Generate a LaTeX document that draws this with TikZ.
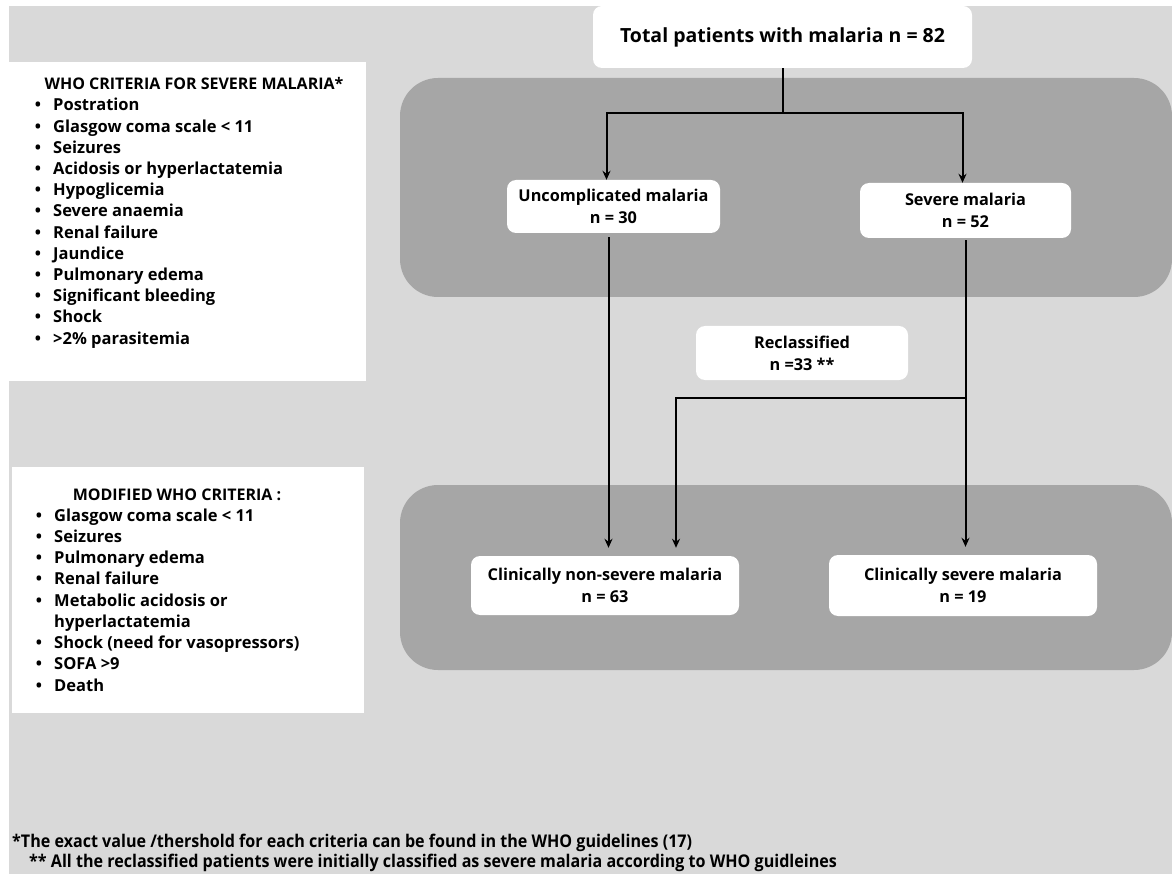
\documentclass[tikz,border=0pt]{standalone}
\usepackage{fontspec}
\setmainfont{Open Sans}
\newfontfamily\condfont{Open Sans}[FakeStretch=0.92]
\usetikzlibrary{positioning, arrows.meta, calc}

\definecolor{bggray}{HTML}{D9D9D9}
\definecolor{bandgray}{HTML}{A6A6A6}

\begin{document}
\begin{tikzpicture}[
    x=1pt, y=-1pt,
    band/.style={fill=bandgray, rounded corners=38pt},
    critbox/.style={rectangle, fill=white, inner sep=0pt},
    flowbox/.style={rectangle, fill=white, rounded corners=9pt, align=center, inner sep=0pt, font=\bfseries\fontsize{16.3}{22}\selectfont},
    arrow/.style={-{Stealth[length=9pt, width=8pt]}, line width=2pt, black},
    link/.style={line width=2pt, black},
    crititem/.style={anchor=base west, inner sep=0pt, font=\bfseries\fontsize{16.5}{20}\selectfont},
    bulletdot/.style={anchor=base, inner sep=0pt, font=\bfseries\fontsize{16.5}{20}\selectfont},
    crittitle/.style={anchor=base, inner sep=0pt, font=\bfseries\fontsize{16}{20}\selectfont},
    note/.style={anchor=base west, inner sep=0pt, font=\condfont\bfseries\fontsize{17.5}{21}\selectfont}
]
\useasboundingbox (0,0) rectangle (1172,874);

% Background
\fill[white] (0,0) rectangle (1172,874);
\fill[bggray] (9,6) rectangle (1172,874);

% Bands behind the flow
\fill[band] (400,78) rectangle (1172,297);
\fill[band] (400,485) rectangle (1172,670);

% WHO criteria
\node[critbox, minimum width=357pt, minimum height=319pt] (whobox) at (187.5,221.5) {};
\node[crittitle] (whotitle) at (194,90) {WHO CRITERIA FOR SEVERE MALARIA*};
\foreach \txt [count=\i] in {Postration, Glasgow coma scale < 11, Seizures, Acidosis or hyperlactatemia, Hypoglicemia, Severe anaemia, Renal failure, Jaundice, Pulmonary edema, Significant bleeding, Shock, {>2\% parasitemia}} {
    \pgfmathsetmacro{\ypos}{111 + (\i-1)*21.2}
    \node[bulletdot] (whodot\i) at (38,\ypos) {\textbullet};
    \node[crititem] (whoitem\i) at (53,\ypos) {\txt};
}

% Modified WHO criteria
\node[critbox, minimum width=352pt, minimum height=246pt] (modbox) at (188,590) {};
\node[crittitle] (modtitle) at (177,500) {MODIFIED WHO CRITERIA :};
\foreach \txt/\dot [count=\i] in {Glasgow coma scale < 11/1, Seizures/1, Pulmonary edema/1, Renal failure/1, Metabolic acidosis or/1, hyperlactatemia/0, Shock (need for vasopressors)/1, SOFA >9/1, Death/1} {
    \pgfmathsetmacro{\ypos}{521 + (\i-1)*21.25}
    \ifnum\dot=1
        \node[bulletdot] (moddot\i) at (39,\ypos) {\textbullet};
    \fi
    \node[crititem] (moditem\i) at (54,\ypos) {\txt};
}

% Flow boxes
\node[flowbox, minimum width=379pt, minimum height=62pt, font=\bfseries\fontsize{19.5}{22}\selectfont] (total) at (782.5,37) {Total patients with malaria n = 82};
\node[flowbox, minimum width=213pt, minimum height=53pt] (uncomp) at (613.5,206.5) {Uncomplicated malaria\\n = 30};
\node[flowbox, minimum width=211pt, minimum height=55pt] (severe) at (965.5,210.5) {Severe malaria\\n = 52};
\node[flowbox, minimum width=212pt, minimum height=54pt] (reclass) at (802,353) {Reclassified\\n =33 **};
\node[flowbox, minimum width=268pt, minimum height=59pt] (nonsev) at (605,585.5) {Clinically non-severe malaria\\n = 63};
\node[flowbox, minimum width=268pt, minimum height=61pt] (clinsev) at (963,585.5) {Clinically severe malaria\\n = 19};

% Connectors
\draw[link] (total.south) -- ++(0,45) coordinate (split);
\draw[arrow] (split) -| ([xshift=-7pt]uncomp.north);
\draw[arrow] (split) -| ([xshift=-3pt]severe.north);
\draw[arrow, shorten <=4pt, shorten >=8pt] ([xshift=-5pt]uncomp.south) -- ([xshift=-5pt]uncomp.south |- nonsev.north);
\draw[arrow, shorten <=2pt, shorten >=8pt] (severe.south) -- (severe.south |- clinsev.north);
\coordinate (merge) at (severe.south |- 0,398);
\draw[arrow, shorten >=8pt] (merge) -| ([xshift=71pt]nonsev.north);

% Footnotes
\node[note] (note1) at (12,847) {*The exact value /thershold for each criteria can be found in the WHO guidelines (17)};
\node[note] (note2) at (29,867) {** All the reclassified patients were initially classified as severe malaria according to WHO guidleines};

\end{tikzpicture}
\end{document}
